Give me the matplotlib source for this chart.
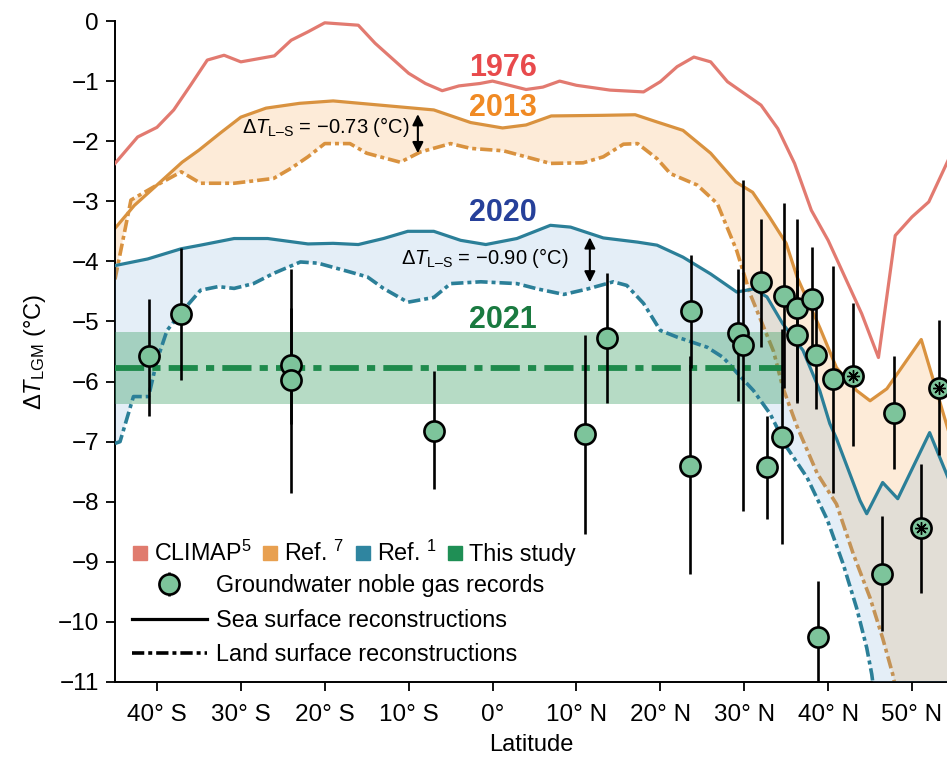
""" LGM land temperature change vs latitude: reconstructions and noble gas records. """

import numpy as np
import matplotlib
matplotlib.use("Agg")
import matplotlib.pyplot as plt
from matplotlib.patches import Patch
from matplotlib.lines import Line2D

# CLIMAP (1976), sea surface
climap_lat = [-45, -42.3, -40, -38, -36, -34, -32, -30, -26, -24, -22, -20, -16, -14, -10, -8, -6, -4,
              -1.5, 0, 4, 6, 8, 10, 14, 18, 20, 22, 24, 26, 28, 32, 34, 36, 38, 40, 42, 44, 46, 48, 50, 52, 54.3]
climap_sea = [-2.37, -1.93, -1.77, -1.48, -1.07, -0.65, -0.57, -0.68, -0.58, -0.32, -0.18, -0.03, -0.07, -0.37,
              -0.87, -1.04, -1.16, -1.08, -1.04, -1.0, -1.14, -1.1, -1.0, -1.07, -1.15, -1.18, -1.01, -0.76,
              -0.6, -0.68, -1.01, -1.4, -1.79, -2.37, -3.15, -3.65, -4.26, -4.87, -5.6, -3.57, -3.26, -3.01, -2.32]

# Ref. 7 (2013), sea and land
ref7_sea_lat = [-45, -42.7, -40, -37, -35, -32.5, -30, -27, -23, -19, -15, -11, -7, -2.6, 1.2, 4, 7, 13, 17,
                19.6, 22.7, 26, 29, 31, 33, 35, 36.3, 39, 41, 43.4, 45, 47, 51.1, 54.3]
ref7_sea = [-3.45, -3.07, -2.73, -2.35, -2.15, -1.87, -1.6, -1.45, -1.37, -1.33, -1.38, -1.43, -1.48, -1.69,
            -1.78, -1.73, -1.58, -1.57, -1.56, -1.68, -1.82, -2.2, -2.68, -2.85, -3.26, -3.7, -4.26, -5.1,
            -5.77, -6.15, -6.32, -6.12, -5.3, -6.8]
ref7_land_lat = [-45, -43.1, -40, -37.1, -34.8, -30.8, -26.1, -24, -22, -20, -17, -15, -11, -8.6, -5, -2.6, 1.3,
                 6.9, 10.8, 13.2, 15.6, 17.3, 19.6, 21.2, 24.4, 26.8, 29.1, 30.7, 33.5, 34.6, 36.3, 38.7, 41,
                 43, 45, 46.5, 47.7, 48.5]
ref7_land = [-4.3, -2.98, -2.73, -2.51, -2.7, -2.7, -2.62, -2.45, -2.26, -2.04, -2.04, -2.2, -2.35, -2.18,
             -2.04, -2.12, -2.16, -2.37, -2.36, -2.26, -2.05, -2.04, -2.29, -2.54, -2.73, -3.04, -3.82, -4.54,
             -5.5, -6.1, -6.75, -7.53, -8.04, -8.87, -9.6, -10.27, -10.87, -11.4]

# Ref. 1 (2020), sea and land
ref1_sea_lat = [-45, -41.1, -37.1, -34.8, -30.8, -26.8, -22, -19, -16, -13, -10.1, -7, -3.8, -0.8, 2.9, 6.9,
                9.3, 13.2, 17.3, 19.6, 22.7, 26, 29.1, 31.1, 32.7, 34.6, 37, 39, 40.2, 41, 43.8, 44.6, 46.5,
                48.3, 52.1, 54.3]
ref1_sea = [-4.07, -3.96, -3.79, -3.73, -3.62, -3.62, -3.71, -3.7, -3.72, -3.62, -3.5, -3.5, -3.65, -3.72,
            -3.62, -3.4, -3.43, -3.61, -3.68, -3.73, -3.93, -4.21, -4.51, -4.46, -4.59, -5.04, -5.48, -6.15,
            -6.7, -6.95, -7.98, -8.2, -7.68, -7.95, -6.85, -7.6]
ref1_land_lat = [-45, -44.4, -42.8, -41, -40, -38.8, -37.1, -34.8, -32.7, -30.8, -28.5, -26.1, -22.9, -20.8,
                 -16.9, -14.9, -13, -10.1, -7, -5, -1.4, 2.9, 5.4, 8.5, 11.3, 14.4, 16, 18, 20, 22, 25.6,
                 27.5, 29.1, 31.1, 33.1, 35.1, 37.5, 39.9, 41.8, 43.4, 44.6, 45.2, 45.6]
ref1_land = [-7.03, -7.0, -6.25, -6.25, -5.65, -5.15, -4.85, -4.48, -4.42, -4.45, -4.37, -4.2, -4.01, -4.03,
             -4.18, -4.26, -4.45, -4.68, -4.6, -4.37, -4.34, -4.37, -4.46, -4.55, -4.46, -4.34, -4.4, -4.7,
             -5.15, -5.26, -5.43, -5.6, -5.85, -6.15, -6.54, -7.1, -7.6, -8.3, -9.04, -9.77, -10.43, -10.87,
             -11.3]

# This study (2021)
study_mean = -5.77
study_low, study_high = -6.37, -5.17
study_lat_end = 34.5

# Groundwater noble gas records
gw_lat = [-40.9, -37.1, -24.0, -24.0, -7.0, 11.0, 13.7, 23.6, 23.5, 29.3, 29.8, 32.0, 32.7, 34.7, 34.5,
          36.3, 36.3, 38.1, 38.5, 40.6, 38.8, 47.8, 46.4]
gw_val = [-5.58, -4.87, -5.73, -5.97, -6.82, -6.88, -5.27, -4.83, -7.4, -5.2, -5.4, -4.35, -7.42, -4.57,
          -6.92, -4.77, -5.22, -4.62, -5.55, -5.95, -10.25, -6.52, -9.2]
gw_err_up = [0.96, 1.10, 0.96, 1.85, 1.0, 1.65, 1.07, 0.93, 1.83, 1.08, 2.75, 1.06, 0.85, 1.54, 1.8,
             1.48, 1.08, 0.86, 0.9, 1.88, 0.93, 0.95, 0.97]
gw_err_down = [0.99, 1.11, 0.97, 1.88, 0.96, 1.65, 1.08, 0.94, 1.8, 1.12, 2.75, 1.08, 0.86, 1.53, 1.78,
               1.55, 1.13, 0.88, 0.9, 1.9, 0.95, 0.93, 0.95]
# records marked with an asterisk
gwa_lat = [43.0, 51.1, 53.2]
gwa_val = [-5.9, -8.43, -6.1]
gwa_err_up = [1.2, 1.06, 1.13]
gwa_err_down = [1.17, 1.09, 1.13]

lat_ticks = [-40, -30, -20, -10, 0, 10, 20, 30, 40, 50]
lat_labels = ["40° S", "30° S", "20° S", "10° S", "0°", "10° N", "20° N", "30° N", "40° N", "50° N"]

X_MIN, X_MAX = -45, 54.17
Y_MIN, Y_MAX = -11, 0

RED = "#e27a70"
ORANGE = "#d9923f"
ORANGE_FILL = "#fdebd8"
TEAL = "#2b7f98"
TEAL_FILL = "#5b9bd0"
GREEN = "#1e8a4c"
POINT = "#7dc49b"

LAND_DASH = (0, (3.4, 1.1, 1.1, 1.1))


def band(ax, lat_top, top, lat_bot, bot, **kw):
    # polygon between upper and lower curve, closed at the bottom-right corner
    xs = list(lat_top) + [X_MAX + 1, X_MAX + 1] + list(lat_bot)[::-1]
    ys = list(top) + [top[-1], Y_MIN - 2] + list(bot)[::-1]
    ax.fill(xs, ys, lw=0, **kw)


def main():
    plt.rcParams.update({
        "font.family": ["Liberation Sans", "DejaVu Sans"],
        "font.size": 16,
        "mathtext.fontset": "custom",
        "mathtext.rm": "Liberation Sans",
        "mathtext.it": "Liberation Sans:italic",
        "mathtext.bf": "Liberation Sans:bold",
    })
    fig = plt.figure(figsize=(9.47, 7.57), dpi=100)
    ax = fig.add_axes([115 / 947, 1 - 682 / 757, 1 - 115 / 947, (682 - 21) / 757])

    # Ref. 7
    band(ax, ref7_sea_lat, ref7_sea, ref7_land_lat, ref7_land, color=ORANGE_FILL, zorder=1)
    ax.plot(ref7_sea_lat, ref7_sea, color=ORANGE, lw=2.3, zorder=2)
    ax.plot(ref7_land_lat, ref7_land, color=ORANGE, lw=2.6, ls=LAND_DASH, zorder=2)

    # Ref. 1
    band(ax, ref1_sea_lat, ref1_sea, ref1_land_lat, ref1_land, color=TEAL_FILL, alpha=0.16, zorder=3)
    ax.plot(ref1_sea_lat, ref1_sea, color=TEAL, lw=2.3, zorder=4)
    ax.plot(ref1_land_lat, ref1_land, color=TEAL, lw=2.6, ls=LAND_DASH, zorder=4)

    # CLIMAP
    ax.plot(climap_lat, climap_sea, color=RED, lw=2.3, zorder=4)

    # This study
    ax.fill_between([X_MIN, study_lat_end], study_low, study_high, color="#2e9a5a", alpha=0.35, lw=0, zorder=3.5)
    ax.plot([X_MIN, study_lat_end], [study_mean, study_mean], color=GREEN, lw=4.2,
            ls=(0, (5, 1.4, 1.4, 1.4)), zorder=6)

    # groundwater records
    gw = ax.errorbar(gw_lat, gw_val, yerr=[gw_err_down, gw_err_up], fmt="o", ms=14.5, mfc=POINT, mec="black",
                     mew=1.9, ecolor="black", elinewidth=1.9, capsize=0, zorder=7)
    ax.errorbar(gwa_lat, gwa_val, yerr=[gwa_err_down, gwa_err_up], fmt="o", ms=14.5, mfc=POINT, mec="black",
                mew=1.9, ecolor="black", elinewidth=1.9, capsize=0, zorder=7)
    ax.plot(gwa_lat, gwa_val, ls="none", marker=(8, 2, 0), ms=9, mec="black", mew=1.0, zorder=9)

    # year labels
    ax.text(1.2, -0.78, "1976", color="#e84a4c", fontsize=22, fontweight="bold", ha="center", va="center")
    ax.text(1.2, -1.45, "2013", color="#f08a24", fontsize=22, fontweight="bold", ha="center", va="center")
    ax.text(1.2, -3.2, "2020", color="#26409a", fontsize=22, fontweight="bold", ha="center", va="center")
    ax.text(1.2, -4.98, "2021", color="#1a7a40", fontsize=22, fontweight="bold", ha="center", va="center")

    # land-sea offsets
    ax.text(-19.9, -1.77, "Δ$T_{\\mathrm{L–S}}$ = −0.73 (°C)", fontsize=14.5, ha="center", va="center", zorder=8)
    ax.annotate("", xy=(-8.9, -2.2), xytext=(-8.9, -1.55),
                arrowprops=dict(arrowstyle="<|-|>", color="black", lw=1.5, mutation_scale=16,
                                shrinkA=0, shrinkB=0), zorder=8)
    ax.text(-0.95, -3.95, "Δ$T_{\\mathrm{L–S}}$ = −0.90 (°C)", fontsize=14.5, ha="center", va="center", zorder=8)
    ax.annotate("", xy=(11.6, -4.35), xytext=(11.6, -3.6),
                arrowprops=dict(arrowstyle="<|-|>", color="black", lw=1.5, mutation_scale=16,
                                shrinkA=0, shrinkB=0), zorder=8)

    # axes
    ax.set_xlim(X_MIN, X_MAX)
    ax.set_ylim(Y_MIN, Y_MAX)
    ax.set_xticks(lat_ticks)
    ax.set_xticklabels(lat_labels)
    ax.set_yticks(range(-11, 1))
    ax.tick_params(direction="out", length=6.5, width=1.3, labelsize=17.5, pad=5)
    ax.tick_params(axis="x", pad=9)
    for side in ("top", "right"):
        ax.spines[side].set_visible(False)
    for side in ("left", "bottom"):
        ax.spines[side].set_linewidth(1.4)
    ax.set_xlabel("Latitude", fontsize=17, labelpad=6)
    ax.set_ylabel("Δ$T_{\\mathrm{LGM}}$ (°C)", fontsize=17, labelpad=7)

    # legends
    patches = [Patch(color="#e07b6e", label="CLIMAP$^{5}$"),
               Patch(color="#e8a050", label="Ref. $^{7}$"),
               Patch(color="#2f85a0", label="Ref. $^{1}$"),
               Patch(color="#1f8f55", label="This study")]
    leg1 = ax.legend(handles=patches, loc="upper left", bbox_to_anchor=(133 / 947, 1 - 541 / 757),
                     bbox_transform=fig.transFigure, ncol=4, frameon=False, fontsize=16.8,
                     handlelength=0.6, handleheight=0.6, handletextpad=0.3, columnspacing=0.5,
                     borderpad=0, borderaxespad=0)
    ax.add_artist(leg1)
    lines = [gw,
             Line2D([], [], color="black", lw=2.3),
             Line2D([], [], color="black", lw=2.6, ls=LAND_DASH)]
    labels = ["Groundwater noble gas records", "Sea surface reconstructions", "Land surface reconstructions"]
    ax.legend(lines, labels, loc="upper left", bbox_to_anchor=(132 / 947, 1 - 574 / 757),
              bbox_transform=fig.transFigure, frameon=False, fontsize=16.8, handlelength=3.2,
              handletextpad=0.4, labelspacing=0.5, borderpad=0, borderaxespad=0)

    fig.savefig("out.png", dpi=100)
    plt.close(fig)


if __name__ == "__main__":
    main()
